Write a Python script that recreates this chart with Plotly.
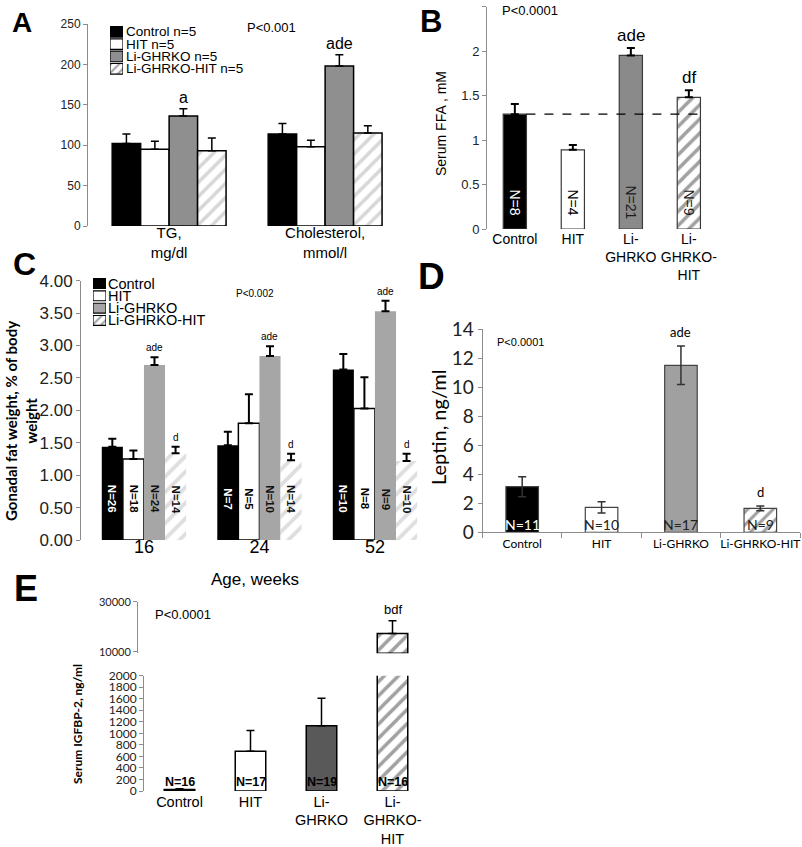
import plotly.graph_objects as go

W, H = 802, 847
ARIAL = "Liberation Sans, Arial, sans-serif"
CALIBRI = "Lato, Carlito, Calibri, sans-serif"

GROUPS = ["Control", "HIT", "Li-GHRKO", "Li-GHRKO-HIT"]

# panel A: serum lipids
A_CATS = ["TG,<br>mg/dl", "Cholesterol,<br>mmol/l"]
A_LEGEND = ["Control n=5", "HIT n=5", "Li-GHRKO n=5", "Li-GHRKO-HIT n=5"]
A_MEAN = [[102, 114], [95, 98], [136, 198], [93, 115]]
A_SEM = [[12, 13], [10, 8], [9, 14], [16, 9]]
A_SIG = [["", ""], ["", ""], ["a", "ade"], ["", ""]]

# panel B: serum FFA
B_CATS = ["Control", "HIT", "Li-<br>GHRKO", "Li-<br>GHRKO-<br>HIT"]
B_MEAN = [1.29, 0.89, 1.95, 1.48]
B_SEM = [0.115, 0.055, 0.085, 0.08]
B_N = ["N=8", "N=4", "N=21", "N=9"]
B_SIG = ["", "", "ade", "df"]

# panel C: gonadal fat by age
C_AGES = ["16", "24", "52"]
C_MEAN = [[1.44, 1.46, 2.63], [1.25, 1.80, 2.03], [2.70, 2.84, 3.53], [1.34, 1.23, 1.22]]
C_SEM = [[0.12, 0.21, 0.24], [0.13, 0.45, 0.48], [0.12, 0.15, 0.16], [0.10, 0.10, 0.11]]
C_N = [["N=26", "N=7", "N=10"], ["N=18", "N=5", "N=8"],
       ["N=24", "N=10", "N=9"], ["N=14", "N=14", "N=10"]]
C_SIG = [["", "", ""], ["", "", ""], ["ade", "ade", "ade"], ["d", "d", "d"]]

# panel D: leptin
D_MEAN = [3.14, 1.72, 11.5, 1.65]
D_SEM = [0.69, 0.39, 1.33, 0.16]
D_N = ["N=11", "N=10", "N=17", "N=9"]
D_SIG = ["", "", "ade", "d"]

# panel E: IGFBP-2 (broken axis)
E_CATS = ["Control", "HIT", "Li-<br>GHRKO", "Li-<br>GHRKO-<br>HIT"]
E_MEAN = [25, 690, 1130, 17300]
E_SEM = [15, 360, 480, 5100]
E_N = ["N=16", "N=17", "N=19", "N=16"]
E_SIG = ["", "", "", "bdf"]
E_LOW_RANGE = [0, 2000]
E_UP_RANGE = [9400, 30000]


def dom_x(a, b):
    return [a / W, b / W]


def dom_y(top, bottom):
    return [1 - bottom / H, 1 - top / H]


def pattern(shape, fg, size=10):
    return dict(shape=shape, fgcolor=fg, bgcolor="#ffffff", size=size, solidity=0.35,
                fillmode="overlay")


def err(sem, color="#000000", thick=1.5, both=False):
    e = dict(type="data", array=sem, color=color, thickness=thick, width=4)
    if not both:
        e.update(symmetric=False, arrayminus=[0] * len(sem))
    return e


HATCH = ["", "", "", "/"]
fig = go.Figure()
ann = []

# ---------- A ----------
A_FILL = ["#000000", "#ffffff", "#8f8f8f", "#ffffff"]
for g in range(4):
    fig.add_trace(go.Bar(
        x=A_CATS, y=A_MEAN[g], name=GROUPS[g], xaxis="x", yaxis="y",
        marker=dict(color=A_FILL[g], line=dict(color="#000000", width=1.5),
                    pattern=pattern(HATCH[g], "#b0b0b0")),
        error_y=err(A_SEM[g]), showlegend=False, hoverinfo="skip"))
    for i in range(len(A_CATS)):
        if A_SIG[g][i]:
            ann.append(dict(x=i + (g - 1.5) * 0.73 / 4, y=A_MEAN[g][i] + A_SEM[g][i],
                            xref="x", yref="y", text=A_SIG[g][i], showarrow=False,
                            yanchor="bottom", yshift=1, font=dict(size=16, family=ARIAL)))

# legend swatches for A (one horizontal bar per row)
fig.add_trace(go.Bar(
    y=GROUPS, x=[1] * 4, orientation="h", width=0.86, xaxis="x7", yaxis="y7",
    marker=dict(color=A_FILL, line=dict(color="#000000", width=1.2),
                pattern=pattern(HATCH, "#9a9a9a", 6)),
    showlegend=False, hoverinfo="skip"))
for g in range(4):
    ann.append(dict(x=124 / W, y=GROUPS[g], xref="paper", yref="y7", text=A_LEGEND[g],
                    showarrow=False, xanchor="left", font=dict(size=13.5, family=ARIAL)))

# ---------- B ----------
B_FILL = ["#000000", "#ffffff", "#8a8a8a", "#ffffff"]
fig.add_trace(go.Bar(
    x=B_CATS, y=B_MEAN, width=0.4, xaxis="x2", yaxis="y2",
    marker=dict(color=B_FILL, line=dict(color="#3a3a3a", width=1.2),
                pattern=pattern(HATCH, "#a8a8a8")),
    error_y=err(B_SEM, thick=2), showlegend=False, hoverinfo="skip"))
B_NCOL = ["#ffffff", "#000000", "#1a1a1a", "#1a1a1a"]
for i in range(4):
    ann.append(dict(x=i, y=0.3, xref="x2", yref="y2", text=B_N[i], textangle=90,
                    showarrow=False, font=dict(size=14, family=ARIAL, color=B_NCOL[i])))
    if B_SIG[i]:
        ann.append(dict(x=i, y=B_MEAN[i] + B_SEM[i], xref="x2", yref="y2", text=B_SIG[i],
                        showarrow=False, yanchor="bottom", yshift=1,
                        font=dict(size=17, family=ARIAL)))
fig.add_shape(type="line", xref="x2", yref="y2", x0=0.2, x1=len(B_MEAN) - 1 + 0.2,
              y0=B_MEAN[0], y1=B_MEAN[0], line=dict(color="#000000", width=1.2, dash="dash"))

# ---------- C ----------
C_FILL = ["#000000", "#ffffff", "#a6a6a6", "#ffffff"]
C_LINE = [0, 1.5, 0, 0]
C_NCOL = ["#ffffff", "#000000", "#111111", "#111111"]
for g in range(4):
    fig.add_trace(go.Bar(
        x=C_AGES, y=C_MEAN[g], name=GROUPS[g], xaxis="x3", yaxis="y3",
        marker=dict(color=C_FILL[g], line=dict(color="#000000", width=C_LINE[g]),
                    pattern=pattern(HATCH[g], "#bdbdbd", 11)),
        error_y=err(C_SEM[g], thick=2), showlegend=False, hoverinfo="skip"))
    for i in range(3):
        xpos = i + (g - 1.5) * 0.73 / 4
        ann.append(dict(x=xpos, y=0.63, xref="x3", yref="y3", text="<b>%s</b>" % C_N[g][i],
                        textangle=90, showarrow=False,
                        font=dict(size=11.5, family=ARIAL, color=C_NCOL[g])))
        if C_SIG[g][i]:
            ann.append(dict(x=xpos, y=C_MEAN[g][i] + C_SEM[g][i], xref="x3", yref="y3",
                            text=C_SIG[g][i], showarrow=False, yanchor="bottom", yshift=2,
                            font=dict(size=10, family=ARIAL)))

fig.add_trace(go.Bar(
    y=GROUPS, x=[1] * 4, orientation="h", width=0.8, xaxis="x8", yaxis="y8",
    marker=dict(color=C_FILL, line=dict(color="#000000", width=1.2),
                pattern=pattern(HATCH, "#9a9a9a", 6)),
    showlegend=False, hoverinfo="skip"))
for g in range(4):
    ann.append(dict(x=106 / W, y=GROUPS[g], xref="paper", yref="y8", text=GROUPS[g],
                    showarrow=False, xanchor="left", font=dict(size=14.5, family=ARIAL)))

# ---------- D ----------
D_FILL = ["#000000", "#ffffff", "#a0a0a0", "#ffffff"]
D_NCOL = ["#ffffff", "#222222", "#222222", "#222222"]
fig.add_trace(go.Bar(
    x=GROUPS, y=D_MEAN, width=0.41, xaxis="x4", yaxis="y4",
    marker=dict(color=D_FILL, line=dict(color="#444444", width=1.2),
                pattern=pattern(HATCH, "#a8a8a8", 9)),
    error_y=err(D_SEM, color="#333333", thick=1.5, both=True),
    showlegend=False, hoverinfo="skip"))
for i in range(4):
    ann.append(dict(x=i, y=0.55, xref="x4", yref="y4", text=D_N[i], showarrow=False,
                    font=dict(size=14, family=CALIBRI, color=D_NCOL[i])))
    if D_SIG[i]:
        ann.append(dict(x=i, y=D_MEAN[i] + D_SEM[i], xref="x4", yref="y4", text=D_SIG[i],
                        showarrow=False, yanchor="bottom", yshift=4,
                        font=dict(size=13, family=CALIBRI)))

# ---------- E ----------
E_FILL = ["#000000", "#ffffff", "#595959", "#ffffff"]
fig.add_trace(go.Bar(
    x=E_CATS, y=E_MEAN, width=0.43, xaxis="x5", yaxis="y5",
    marker=dict(color=E_FILL, line=dict(color="#000000", width=1.5),
                pattern=pattern(HATCH, "#8c8c8c", 10)),
    error_y=err(E_SEM), showlegend=False, hoverinfo="skip"))
# upper segment of the broken axis: only values above the break are drawn
e_up = [m - E_UP_RANGE[0] if m > E_UP_RANGE[0] else None for m in E_MEAN]
fig.add_trace(go.Bar(
    x=E_CATS, y=e_up, base=E_UP_RANGE[0], width=0.43, xaxis="x6", yaxis="y6",
    marker=dict(color=E_FILL, line=dict(color="#000000", width=1.5),
                pattern=pattern(HATCH, "#8c8c8c", 10)),
    error_y=err(E_SEM), showlegend=False, hoverinfo="skip"))
for i in range(4):
    ann.append(dict(x=i, y=150, xref="x5", yref="y5", text="<b>%s</b>" % E_N[i],
                    showarrow=False, font=dict(size=12.5, family=ARIAL, color="#000000")))
    if E_SIG[i]:
        ann.append(dict(x=i, y=E_MEAN[i] + E_SEM[i], xref="x6", yref="y6", text=E_SIG[i],
                        showarrow=False, yanchor="bottom", yshift=2,
                        font=dict(size=13, family=ARIAL)))


# ---------- free text ----------
def label(text, x, y, size, family=ARIAL, angle=0, xanchor="center", yanchor="middle", color="#000000"):
    ann.append(dict(text=text, x=x / W, y=1 - y / H, xref="paper", yref="paper", showarrow=False,
                    textangle=angle, xanchor=xanchor, yanchor=yanchor,
                    font=dict(size=size, family=family, color=color)))


for letter, x, y, size in [("A", 10, 23, 28), ("B", 418, 21, 31), ("C", 11, 264, 32),
                           ("D", 416, 276, 37), ("E", 12, 588, 36)]:
    label("<b>%s</b>" % letter, x, y, size, xanchor="left")

label("P<0.001", 245, 27, 13, xanchor="left")
label("P<0.0001", 500, 10, 13, xanchor="left")
label("P<0.002", 255, 294, 10)
label("P<0.0001", 495, 342, 11, xanchor="left")
label("P<0.0001", 153, 614, 13, xanchor="left")

label("Serum FFA , mM", 441, 124, 14, angle=-90)
label("<b>Gonadal fat weight, % of body<br>weight</b>", 21, 421, 15, family=CALIBRI, angle=-90)
label("Age, weeks", 255, 579, 17)
label("Leptin, ng/ml", 438, 427, 20, family=CALIBRI, angle=-90)
label("<b>Serum IGFBP-2, ng/ml</b>", 77, 724, 12, family=CALIBRI, angle=-90)

# ---------- axes ----------
AX_LINE = "#8c8c8c"


def yax(domain, rng, dtick, size, family=ARIAL, **kw):
    d = dict(domain=domain, range=rng, dtick=dtick, showgrid=False, zeroline=False,
             showline=True, linecolor=AX_LINE, linewidth=1, ticks="outside", ticklen=4,
             tickcolor=AX_LINE, automargin=False,
             tickfont=dict(size=size, family=family, color="#222222"))
    d.update(kw)
    return d


def xcat(domain, rng, size, family=ARIAL, **kw):
    d = dict(domain=domain, range=rng, type="category", showgrid=False, zeroline=False,
             showline=False, ticks="", tickangle=0, automargin=False,
             tickfont=dict(size=size, family=family, color="#000000"))
    d.update(kw)
    return d


fig.update_layout(
    template="none",
    width=W, height=H, margin=dict(l=0, r=0, t=0, b=0, autoexpand=False),
    paper_bgcolor="#ffffff", plot_bgcolor="rgba(0,0,0,0)",
    font=dict(family=ARIAL, color="#000000"),
    barmode="group", bargap=0.27, bargroupgap=0, showlegend=False,
    xaxis=xcat(dom_x(88, 400), [-0.52, 1.48], 15, anchor="y", ticklabelstandoff=-4),
    yaxis=yax(dom_y(24, 226), [0, 250], 50, 12, anchor="x"),
    xaxis2=xcat(dom_x(487, 719), [-0.48, 3.52], 14, anchor="y2"),
    yaxis2=yax(dom_y(6.5, 229), [0, 2.5], 0.5, 13, anchor="x2"),
    xaxis3=xcat(dom_x(81, 427.5), [-0.545, 2.455], 18, anchor="y3", ticklabelstandoff=-6),
    yaxis3=yax(dom_y(280.7, 540), [0, 4], 0.5, 17, anchor="x3", tickformat=".2f"),
    xaxis4=xcat(dom_x(482.5, 800), [-0.5, 3.5], 12, family=CALIBRI, anchor="y4",
                showline=True, linecolor=AX_LINE, ticks="outside", tickson="boundaries",
                ticklen=5, tickcolor=AX_LINE),
    yaxis4=yax(dom_y(329, 532.3), [0, 14], 2, 19, family=CALIBRI, anchor="x4"),
    xaxis5=xcat(dom_x(144, 428), [-0.5, 3.5], 14.5, anchor="y5"),
    yaxis5=yax(dom_y(675.7, 791), E_LOW_RANGE, 200, 12, family=CALIBRI, anchor="x5"),
    xaxis6=xcat(dom_x(144, 428), [-0.5, 3.5], 15, anchor="y6", matches="x5",
                showticklabels=False),
    yaxis6=yax(dom_y(601.7, 653.3), E_UP_RANGE, None, 11, family=CALIBRI, anchor="free",
               position=137 / W, tickvals=[10000, 30000], tickformat="d"),
    xaxis7=dict(domain=dom_x(110, 123), range=[0, 1], visible=False, anchor="y7"),
    yaxis7=dict(domain=dom_y(22.3, 78.3), type="category", autorange="reversed",
                visible=False, anchor="x7"),
    xaxis8=dict(domain=dom_x(93, 106), range=[0, 1], visible=False, anchor="y8"),
    yaxis8=dict(domain=dom_y(273.6, 330.4), type="category", autorange="reversed",
                visible=False, anchor="x8"),
    annotations=ann,
)

# the page's default 8px body margin would push the figure off the 802x847 window
fig.write_html("out.html", config={"displayModeBar": False},
               post_script="document.body.style.margin = '0';")
